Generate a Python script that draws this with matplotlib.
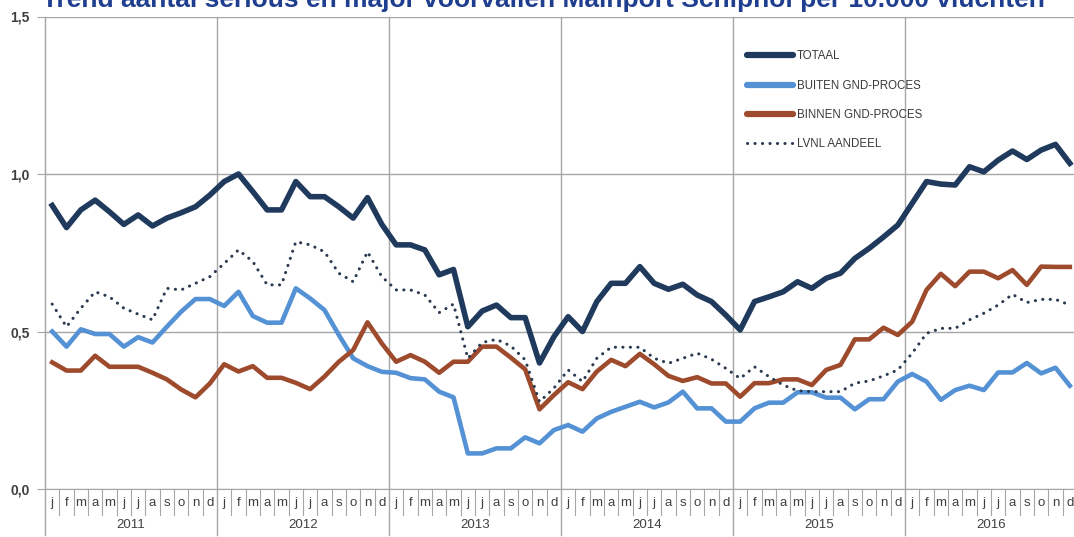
import matplotlib
matplotlib.use("Agg")
from matplotlib import pyplot as plt

plt.rcParams['font.family'] = ['Liberation Sans', 'DejaVu Sans']

years = ["2011", "2012", "2013", "2014", "2015", "2016"]
month_letters = ["j", "f", "m", "a", "m", "j", "j", "a", "s", "o", "n", "d"]

# waarden per maand, jan 2011 t/m dec 2016
totaal = [0.90, 0.83, 0.886, 0.917, 0.88, 0.84, 0.87, 0.835, 0.86, 0.877, 0.896, 0.933,
          0.976, 1.00, 0.944, 0.886, 0.886, 0.976, 0.928, 0.928, 0.896, 0.86, 0.925, 0.84,
          0.775, 0.775, 0.759, 0.68, 0.697, 0.515, 0.565, 0.584, 0.544, 0.544, 0.40, 0.483,
          0.547, 0.50, 0.595, 0.653, 0.653, 0.706, 0.653, 0.634, 0.65, 0.616, 0.595, 0.552,
          0.505, 0.595, 0.61, 0.626, 0.658, 0.637, 0.669, 0.685, 0.732, 0.764, 0.80, 0.838,
          0.907, 0.976, 0.968, 0.965, 1.023, 1.007, 1.044, 1.073, 1.046, 1.076, 1.094, 1.034]
buiten = [0.50, 0.452, 0.507, 0.492, 0.492, 0.452, 0.482, 0.465, 0.515, 0.563, 0.603, 0.603,
          0.581, 0.626, 0.549, 0.528, 0.528, 0.637, 0.605, 0.568, 0.489, 0.415, 0.39, 0.372,
          0.369, 0.352, 0.348, 0.309, 0.291, 0.113, 0.113, 0.129, 0.129, 0.164, 0.145, 0.187,
          0.203, 0.182, 0.224, 0.245, 0.261, 0.277, 0.259, 0.275, 0.309, 0.256, 0.256, 0.214,
          0.214, 0.256, 0.274, 0.274, 0.307, 0.307, 0.29, 0.29, 0.253, 0.285, 0.285, 0.341,
          0.365, 0.341, 0.283, 0.314, 0.328, 0.314, 0.37, 0.37, 0.40, 0.367, 0.385, 0.328]
binnen = [0.402, 0.376, 0.376, 0.423, 0.388, 0.388, 0.388, 0.369, 0.348, 0.316, 0.291, 0.335,
          0.396, 0.373, 0.39, 0.353, 0.353, 0.337, 0.317, 0.357, 0.404, 0.441, 0.529, 0.462,
          0.404, 0.425, 0.404, 0.369, 0.404, 0.404, 0.452, 0.452, 0.417, 0.38, 0.253, 0.298,
          0.339, 0.317, 0.373, 0.41, 0.39, 0.429, 0.396, 0.359, 0.343, 0.355, 0.335, 0.335,
          0.293, 0.336, 0.336, 0.348, 0.348, 0.33, 0.378, 0.394, 0.475, 0.475, 0.512, 0.489,
          0.531, 0.632, 0.683, 0.644, 0.69, 0.69, 0.669, 0.695, 0.648, 0.706, 0.705, 0.705]
lvnl = [0.587, 0.515, 0.574, 0.626, 0.61, 0.574, 0.555, 0.537, 0.637, 0.632, 0.653, 0.674,
        0.716, 0.759, 0.722, 0.648, 0.648, 0.785, 0.775, 0.753, 0.685, 0.658, 0.753, 0.674,
        0.632, 0.632, 0.616, 0.56, 0.587, 0.415, 0.465, 0.475, 0.454, 0.41, 0.277, 0.32,
        0.378, 0.341, 0.415, 0.45, 0.45, 0.45, 0.415, 0.399, 0.415, 0.431, 0.412, 0.383,
        0.351, 0.388, 0.357, 0.33, 0.312, 0.309, 0.309, 0.309, 0.336, 0.343, 0.359, 0.378,
        0.431, 0.494, 0.51, 0.51, 0.537, 0.558, 0.584, 0.618, 0.592, 0.602, 0.602, 0.584]

x = list(range(len(totaal)))
grid_kleur = "#A6A6A6"
tekst_kleur = "#404040"

fig = plt.figure(figsize=(10.74, 5.37), dpi=100)
ax = fig.add_axes([45 / 1074, 48 / 537, 1032 / 1074, 472.5 / 537])

ax.plot(x, buiten, color="#5592D5", lw=3.3, label="BUITEN GND-PROCES", zorder=3)
ax.plot(x, binnen, color="#9E4B2D", lw=3.3, label="BINNEN GND-PROCES", zorder=4)
ax.plot(x, lvnl, color="#2B3A50", lw=2.2, linestyle=(0, (0.05, 2.4)), dash_capstyle="round",
        label="LVNL AANDEEL", zorder=5)
ax.plot(x, totaal, color="#1F3A5C", lw=4.0, label="TOTAAL", zorder=6)

ax.set_xlim(-0.5, len(x) - 0.5)
ax.set_ylim(0, 1.5)
ax.set_yticks([0, 0.5, 1.0, 1.5])
ax.set_yticklabels(["0,0", "0,5", "1,0", "1,5"], fontweight="bold", color=tekst_kleur, fontsize=10)
ax.tick_params(axis="y", length=6, color=grid_kleur, pad=5)
ax.set_xticks([])
for s in ["top", "right"]:
    ax.spines[s].set_visible(False)
ax.spines["left"].set_color(grid_kleur)
ax.spines["bottom"].set_color(grid_kleur)
ax.grid(axis="y", color=grid_kleur, lw=1)

# jaarlijnen en maand/jaar labels onder de as
trans = ax.get_xaxis_transform()
h = 472.5
for j, jaar in enumerate(years):
    start = j * 12 - 0.5
    ax.plot([start, start], [-46 / h, 1], color=grid_kleur, lw=1, transform=trans, clip_on=False)
    ax.text(start + 6, -36 / h, jaar, transform=trans, ha="center", va="center",
            fontsize=9.5, color=tekst_kleur)
    for m, letter in enumerate(month_letters):
        pos = j * 12 + m
        ax.text(pos, -14 / h, letter, transform=trans, ha="center", va="center",
                fontsize=9.5, color=tekst_kleur)
        if m > 0:
            ax.plot([pos - 0.5, pos - 0.5], [0, -26 / h], color=grid_kleur, lw=0.8,
                    transform=trans, clip_on=False)
ax.plot([len(x) - 0.5] * 2, [-46 / h, 1], color=grid_kleur, lw=1, transform=trans, clip_on=False)

handles, labels = ax.get_legend_handles_labels()
order = [3, 0, 1, 2]
leg = ax.legend([handles[i] for i in order], [labels[i] for i in order],
                loc="upper left", bbox_to_anchor=((737 - 45) / 1032, (489 - 40) / h),
                frameon=False, fontsize=8.3, handlelength=4.0, handletextpad=0.3,
                labelspacing=1.5)
for t in leg.get_texts():
    t.set_color("#3A3A3A")
for lh in leg.legend_handles[:3]:
    lh.set_linewidth(4.5)
    lh.set_solid_capstyle("round")

fig.text(543 / 1074, 1 - 7 / 537, "Trend aantal serious en major voorvallen Mainport Schiphol per 10.000 vluchten",
         ha="center", va="baseline", fontsize=19, fontweight="bold", color="#1F3E8F")

fig.savefig("out.png", dpi=100)
